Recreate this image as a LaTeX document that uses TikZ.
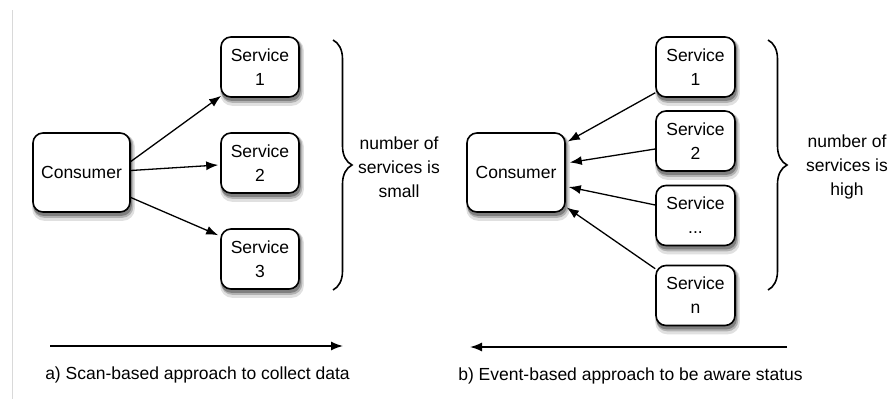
\documentclass[tikz,border=0pt]{standalone}
\usepackage{fontspec}
\setmainfont{Liberation Sans}
\usepackage{tikz}
\usetikzlibrary{arrows.meta,backgrounds,decorations.pathreplacing}

\begin{document}
\begin{tikzpicture}[x=1pt,y=-1pt,>={Latex[length=12pt,width=9pt]},font=\fontsize{17.5}{24}\selectfont,align=center,
		box/.style={draw,rounded corners=10pt,line width=1.6pt,fill=white},
		link/.style={->,line width=1.3pt},
		bracket/.style={decorate,decoration={brace,amplitude=19pt},line width=1.6pt}]
		\useasboundingbox (0,0) rectangle (891,399);
		\draw[black!15,line width=1pt] (12,10) -- (12,399);
		% a) scan-based
		\node[box,minimum width=97pt,minimum height=79pt] (cons) at (81.5,172.5) {Consumer};
		\node[box,minimum width=78pt,minimum height=60pt] (s1) at (260,67) {Service\\1};
		\node[box,minimum width=78pt,minimum height=60pt] (s2) at (260,163) {Service\\2};
		\node[box,minimum width=78pt,minimum height=60pt] (s3) at (260,259) {Service\\3};
		\draw[link] ([yshift=11pt]cons.east) -- ([xshift=1pt,yshift=2pt]s1.south west);
		\draw[link] ([yshift=2pt]cons.east) -- ([xshift=-2pt,yshift=-2pt]s2.west);
		\draw[link] ([yshift=-25pt]cons.east) -- ([xshift=-2pt,yshift=-7pt]s3.north west);
		\draw[bracket] (333,40) -- (333,290);
		\node (few) at (399,167) {number of\\services is\\small};
		\coordinate (scanL) at (50,346);
		\coordinate (scanR) at (343,346);
		\draw[->,line width=1.5pt] (scanL) -- (scanR);
		\node (capA) at (197.5,375) {a) Scan-based approach to collect data};
		% b) event-based
		\node[box,minimum width=98pt,minimum height=79pt] (econs) at (516,172.5) {Consumer};
		\node[box,minimum width=79pt,minimum height=60pt] (r1) at (695.5,67) {Service\\1};
		\node[box,minimum width=79pt,minimum height=60pt] (r2) at (695.5,141) {Service\\2};
		\node[box,minimum width=79pt,minimum height=60pt] (r3) at (695.5,215.5) {Service\\...};
		\node[box,minimum width=79pt,minimum height=60pt] (rn) at (695.5,295.5) {Service\\n};
		\draw[link] ([yshift=5pt]r1.south west) -- ([xshift=2pt,yshift=31pt]econs.east);
		\draw[link] ([yshift=-8pt]r2.west) -- ([xshift=4pt,yshift=10pt]econs.east);
		\draw[link] ([yshift=10.5pt]r3.west) -- ([xshift=3pt,yshift=-14.5pt]econs.east);
		\draw[link] ([yshift=-4pt]rn.north west) -- ([xshift=1pt,yshift=-35pt]econs.east);
		\draw[bracket] (768,40) -- (768,290);
		\node (many) at (847,167) {number of\\services is\\high};
		\coordinate (evR) at (787,347);
		\coordinate (evL) at (470,347);
		\draw[->,line width=1.5pt] (evR) -- (evL);
		\node (capB) at (630.5,376) {b) Event-based approach to be aware status};
		% shadows
		\begin{scope}[on background layer]
			\foreach \n in {cons,s1,s2,s3,econs,r1,r2,r3,rn} {
				\fill[black!12,rounded corners=12pt] ([xshift=0pt,yshift=-2pt]\n.north west) rectangle ([xshift=4pt,yshift=-8pt]\n.south east);
				\fill[black!30,rounded corners=11pt] ([xshift=1pt,yshift=-2pt]\n.north west) rectangle ([xshift=2.5pt,yshift=-5pt]\n.south east);
				\fill[black!50,rounded corners=10pt] ([xshift=1pt,yshift=-2pt]\n.north west) rectangle ([xshift=1pt,yshift=-3pt]\n.south east);
			}
		\end{scope}
\end{tikzpicture}
\end{document}
